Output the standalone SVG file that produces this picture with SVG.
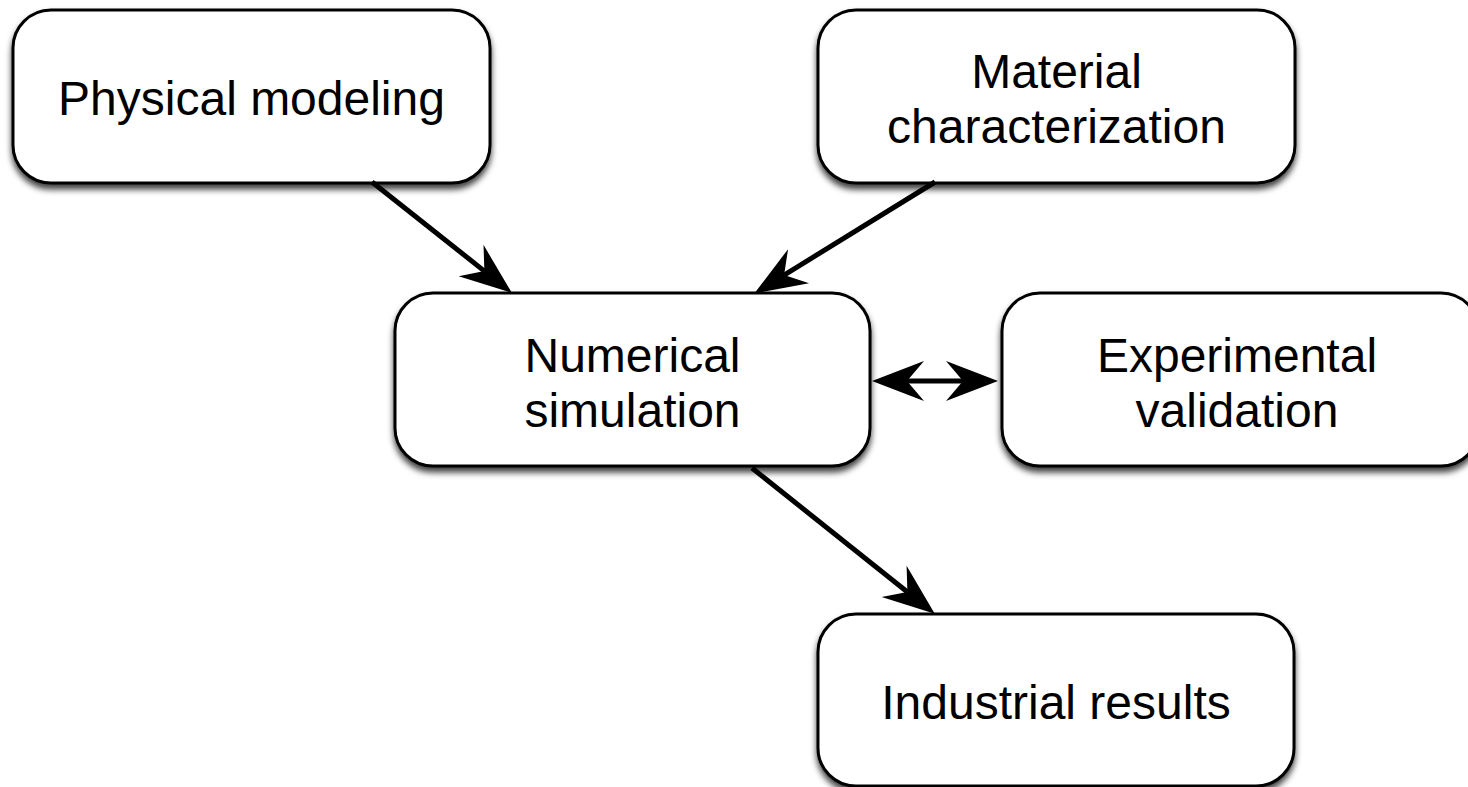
<svg xmlns="http://www.w3.org/2000/svg" width="1468" height="787" viewBox="0 0 1468 787">
<style>
.box{fill:#fff;stroke:#000;stroke-width:3;filter:url(#sh)}
.lbl{font-family:"Liberation Sans",Arial,Helvetica,sans-serif;font-size:48px;fill:#000;text-anchor:middle}
.conn{stroke:#000;stroke-width:5;fill:none}
</style>
<defs>
<filter id="sh" x="-10%" y="-10%" width="120%" height="130%">
<feDropShadow dx="0" dy="5" stdDeviation="3" flood-color="#000" flood-opacity="0.75"/>
</filter>
<marker id="ah" markerUnits="userSpaceOnUse" markerWidth="54" markerHeight="42" refX="17" refY="20" orient="auto-start-reverse" overflow="visible">
<path d="M0,0 L52,20 L0,40 L17,20 Z" fill="#000"/>
</marker>
</defs>
<rect width="1468" height="787" fill="#fff"/>
<g id="physical-modeling">
<rect class="box" x="13" y="10" width="477" height="173" rx="38"/>
<text class="lbl" x="251.5" y="115">Physical modeling</text>
</g>
<g id="material-characterization">
<rect class="box" x="818" y="10" width="477" height="173" rx="38"/>
<text class="lbl" x="1056.5" y="88">Material</text>
<text class="lbl" x="1056.5" y="143">characterization</text>
</g>
<g id="numerical-simulation">
<rect class="box" x="395" y="293" width="475" height="173" rx="38"/>
<text class="lbl" x="632.5" y="372">Numerical</text>
<text class="lbl" x="632.5" y="427">simulation</text>
</g>
<g id="experimental-validation">
<rect class="box" x="1002" y="293" width="477" height="173" rx="38"/>
<text class="lbl" x="1237" y="372">Experimental</text>
<text class="lbl" x="1237" y="427">validation</text>
</g>
<g id="industrial-results">
<rect class="box" x="818" y="614" width="476" height="172" rx="38"/>
<text class="lbl" x="1056" y="719">Industrial results</text>
</g>
<g id="connectors">
<line class="conn" x1="372" y1="182" x2="484.4" y2="271.1" marker-end="url(#ah)"/>
<line class="conn" x1="935" y1="182" x2="784.1" y2="275.1" marker-end="url(#ah)"/>
<line class="conn" x1="907" y1="381" x2="963" y2="381" marker-start="url(#ah)" marker-end="url(#ah)"/>
<line class="conn" x1="752" y1="468" x2="907.4" y2="592.0" marker-end="url(#ah)"/>
</g>
</svg>
